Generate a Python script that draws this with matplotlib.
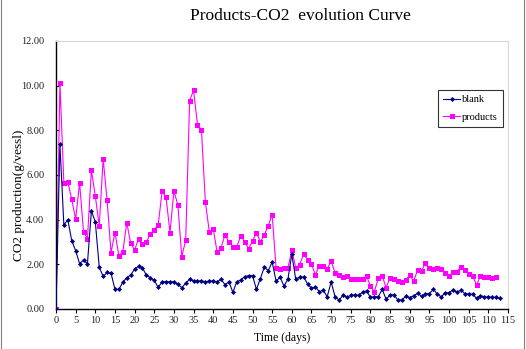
import numpy as np
import matplotlib
matplotlib.use("Agg")
import matplotlib.pyplot as plt
import matplotlib.ticker as mticker
from matplotlib.lines import Line2D

# ── data (g CO2 per vessel, daily readings) ──────────────────────────
blank_days = np.arange(0, 114)
blank_co2 = [
    0.00, 7.37, 3.76, 4.00, 3.06, 2.61, 2.03, 2.19, 2.03, 4.39,
    3.91, 1.87, 1.46, 1.64, 1.60, 0.88, 0.88, 1.20, 1.40, 1.52,
    1.79, 1.91, 1.84, 1.51, 1.40, 1.28, 0.97, 1.22, 1.22, 1.22,
    1.22, 1.10, 0.96, 1.15, 1.34, 1.24, 1.25, 1.26, 1.22, 1.25,
    1.25, 1.22, 1.33, 1.09, 1.21, 0.75, 1.22, 1.30, 1.45, 1.49,
    1.49, 0.88, 1.36, 1.88, 1.72, 2.10, 1.24, 1.43, 1.03, 1.33,
    2.45, 1.33, 1.43, 1.43, 1.13, 0.93, 0.99, 0.78, 0.84, 0.55,
    1.21, 0.55, 0.40, 0.61, 0.52, 0.61, 0.63, 0.61, 0.76, 0.81,
    0.52, 0.55, 0.55, 0.88, 0.43, 0.64, 0.63, 0.40, 0.40, 0.58,
    0.51, 0.60, 0.70, 0.58, 0.69, 0.69, 0.88, 0.67, 0.54, 0.73,
    0.72, 0.87, 0.75, 0.85, 0.69, 0.67, 0.66, 0.48, 0.60, 0.54,
    0.54, 0.52, 0.52, 0.48,
]

product_days = np.arange(0, 113)
product_co2 = [
    0.00, 10.13, 5.66, 5.70, 4.91, 4.02, 5.66, 3.45, 3.15, 6.22,
    5.06, 3.72, 6.72, 4.87, 2.52, 3.42, 2.39, 2.55, 3.87, 2.94,
    2.64, 3.15, 2.91, 3.00, 3.36, 3.55, 3.76, 5.27, 5.00, 3.42,
    5.28, 4.67, 2.34, 3.09, 9.33, 9.79, 8.25, 8.03, 4.81, 3.46,
    3.60, 2.54, 2.75, 3.31, 3.01, 2.79, 2.79, 3.28, 3.00, 2.70,
    3.04, 3.42, 3.00, 3.31, 3.73, 4.22, 1.82, 1.78, 1.85, 1.85,
    2.62, 1.85, 1.98, 2.46, 2.21, 2.00, 1.54, 1.94, 1.94, 1.80,
    2.13, 1.63, 1.54, 1.45, 1.46, 1.33, 1.33, 1.34, 1.33, 1.48,
    1.03, 0.78, 1.37, 1.48, 0.95, 1.41, 1.36, 1.27, 1.22, 1.30,
    1.52, 1.25, 1.74, 1.70, 2.07, 1.85, 1.79, 1.84, 1.79, 1.61,
    1.49, 1.64, 1.67, 1.87, 1.73, 1.55, 1.49, 1.07, 1.48, 1.45,
    1.43, 1.40, 1.45,
]

x_ticks = list(range(0, 116, 5))
y_ticks = [0, 2, 4, 6, 8, 10, 12]

# ── style ─────────────────────────────────────────────────────────────
plt.rcParams["font.family"] = ["Liberation Serif", "DejaVu Serif"]

NAVY = "#000080"
MAGENTA = "#FF00FF"

fig = plt.figure(figsize=(5.26, 3.49), dpi=100)
ax = fig.add_axes([56 / 526, 1 - 309 / 349, (508 - 56) / 526, (309 - 41) / 349])

ax.plot(product_days, product_co2, color=MAGENTA, lw=0.8, marker="s",
        markersize=3.6, markeredgewidth=0, label="products", zorder=2)
ax.plot(blank_days, blank_co2, color=NAVY, lw=0.8, marker="D",
        markersize=2.6, markeredgewidth=0, label="blank", zorder=3)

ax.set_xlim(0, 115)
ax.set_ylim(0, 12)
ax.set_xticks(x_ticks)
ax.set_yticks(y_ticks)
ax.yaxis.set_major_formatter(mticker.FormatStrFormatter("%.2f"))
ax.tick_params(axis="x", direction="out", length=3, width=0.8, pad=2,
               labelsize=7.5, colors="black", labelcolor="#222222")
ax.tick_params(axis="y", direction="in", length=2.5, width=0.8, pad=8.5,
               labelsize=7.5, labelcolor="#222222")

for side in ("left", "bottom"):
    ax.spines[side].set_color("black")
    ax.spines[side].set_linewidth(1.0)
for side in ("top", "right"):
    ax.spines[side].set_color("#d8d8d8")
    ax.spines[side].set_linewidth(0.8)

ax.set_xlabel("Time (days)", fontsize=8.5, labelpad=5)
ax.set_ylabel("CO2 production(g/vessl)", fontsize=9.5)
ax.yaxis.set_label_coords((25 - 56) / 452, (309 - 195) / 268)
fig.text(0.572, 0.955, "Products-CO2  evolution Curve", ha="center",
         va="center", fontsize=12.5)

handles = [
    Line2D([], [], color=NAVY, lw=0.8, marker="D", markersize=2.6,
           markeredgewidth=0),
    Line2D([], [], color=MAGENTA, lw=0.8, marker="s", markersize=3.6,
           markeredgewidth=0),
]
leg = ax.legend(handles, ["blank", "products"], loc="upper left",
                bbox_to_anchor=(438 / 526, 1 - 90 / 349),
                bbox_transform=fig.transFigure, fontsize=7.5, frameon=True,
                fancybox=False, handlelength=1.6, handletextpad=0.2,
                borderpad=0.5, labelspacing=0.8, borderaxespad=0)
leg.get_frame().set_edgecolor("black")
leg.get_frame().set_linewidth(0.8)

# thin outer frame on the sides of the canvas
fig.add_artist(Line2D([1 / 526, 1 / 526], [0, 1], transform=fig.transFigure,
                      color="#808080", lw=0.8))
fig.add_artist(Line2D([524 / 526, 524 / 526], [0, 1],
                      transform=fig.transFigure, color="#808080", lw=0.8))

fig.savefig("out.png", dpi=100)
